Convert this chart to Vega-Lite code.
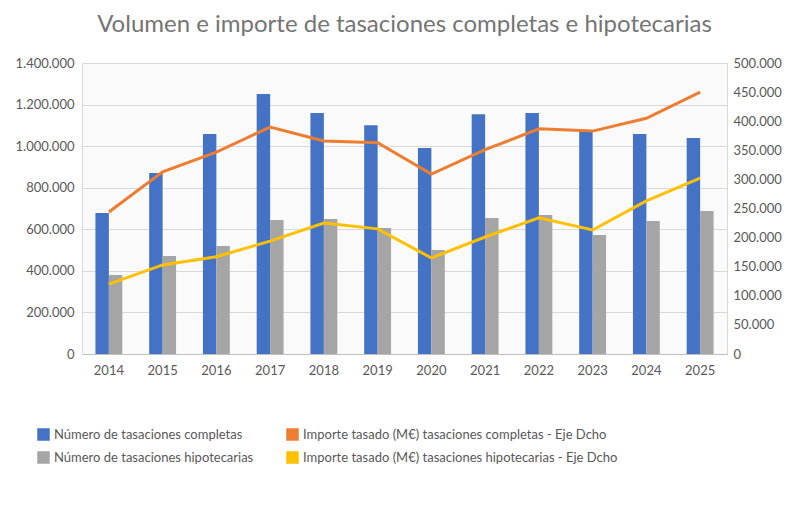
{
"$schema":"https://vega.github.io/schema/vega-lite/v6.json",
"autosize":"none","width":645,"height":291,
"padding":{"left":82,"top":63,"right":73,"bottom":155},
"title":{"text":"Volumen e importe de tasaciones completas e hipotecarias","font":"Lato","fontSize":24,"fontWeight":"normal","color":"#757575","offset":20},
"config":{"locale":{"number":{"decimal":",","thousands":".","grouping":[3],"currency":["","€"]}},"font":"Lato","view":{"stroke":"#d9d9d9","fill":"#fafafa"},
"axis":{"labelFont":"Lato","labelFontSize":13,"labelColor":"#595959","titleFont":"Lato"},
"legend":{"labelFont":"Lato","labelFontSize":13,"labelColor":"#595959"}},
"data":{"values":[
{"y":"2014","s":"Número de tasaciones completas","v":678000},{"y":"2015","s":"Número de tasaciones completas","v":871000},{"y":"2016","s":"Número de tasaciones completas","v":1058000},{"y":"2017","s":"Número de tasaciones completas","v":1251000},{"y":"2018","s":"Número de tasaciones completas","v":1159000},{"y":"2019","s":"Número de tasaciones completas","v":1101000},{"y":"2020","s":"Número de tasaciones completas","v":991000},{"y":"2021","s":"Número de tasaciones completas","v":1154000},{"y":"2022","s":"Número de tasaciones completas","v":1159000},{"y":"2023","s":"Número de tasaciones completas","v":1073000},{"y":"2024","s":"Número de tasaciones completas","v":1058000},{"y":"2025","s":"Número de tasaciones completas","v":1039000},
{"y":"2014","s":"Número de tasaciones hipotecarias","v":380000},{"y":"2015","s":"Número de tasaciones hipotecarias","v":471000},{"y":"2016","s":"Número de tasaciones hipotecarias","v":519000},{"y":"2017","s":"Número de tasaciones hipotecarias","v":645000},{"y":"2018","s":"Número de tasaciones hipotecarias","v":649000},{"y":"2019","s":"Número de tasaciones hipotecarias","v":606000},{"y":"2020","s":"Número de tasaciones hipotecarias","v":500000},{"y":"2021","s":"Número de tasaciones hipotecarias","v":654000},{"y":"2022","s":"Número de tasaciones hipotecarias","v":669000},{"y":"2023","s":"Número de tasaciones hipotecarias","v":572000},{"y":"2024","s":"Número de tasaciones hipotecarias","v":640000},{"y":"2025","s":"Número de tasaciones hipotecarias","v":688000},
{"y":"2014","s":"Importe tasado (M€) tasaciones completas - Eje Dcho","v":244000},{"y":"2015","s":"Importe tasado (M€) tasaciones completas - Eje Dcho","v":313000},{"y":"2016","s":"Importe tasado (M€) tasaciones completas - Eje Dcho","v":347000},{"y":"2017","s":"Importe tasado (M€) tasaciones completas - Eje Dcho","v":390000},{"y":"2018","s":"Importe tasado (M€) tasaciones completas - Eje Dcho","v":366000},{"y":"2019","s":"Importe tasado (M€) tasaciones completas - Eje Dcho","v":363000},{"y":"2020","s":"Importe tasado (M€) tasaciones completas - Eje Dcho","v":309000},{"y":"2021","s":"Importe tasado (M€) tasaciones completas - Eje Dcho","v":351000},{"y":"2022","s":"Importe tasado (M€) tasaciones completas - Eje Dcho","v":387000},{"y":"2023","s":"Importe tasado (M€) tasaciones completas - Eje Dcho","v":383000},{"y":"2024","s":"Importe tasado (M€) tasaciones completas - Eje Dcho","v":405000},{"y":"2025","s":"Importe tasado (M€) tasaciones completas - Eje Dcho","v":450000},
{"y":"2014","s":"Importe tasado (M€) tasaciones hipotecarias - Eje Dcho","v":120000},{"y":"2015","s":"Importe tasado (M€) tasaciones hipotecarias - Eje Dcho","v":153000},{"y":"2016","s":"Importe tasado (M€) tasaciones hipotecarias - Eje Dcho","v":167000},{"y":"2017","s":"Importe tasado (M€) tasaciones hipotecarias - Eje Dcho","v":194000},{"y":"2018","s":"Importe tasado (M€) tasaciones hipotecarias - Eje Dcho","v":225000},{"y":"2019","s":"Importe tasado (M€) tasaciones hipotecarias - Eje Dcho","v":215000},{"y":"2020","s":"Importe tasado (M€) tasaciones hipotecarias - Eje Dcho","v":165000},{"y":"2021","s":"Importe tasado (M€) tasaciones hipotecarias - Eje Dcho","v":201000},{"y":"2022","s":"Importe tasado (M€) tasaciones hipotecarias - Eje Dcho","v":234000},{"y":"2023","s":"Importe tasado (M€) tasaciones hipotecarias - Eje Dcho","v":213000},{"y":"2024","s":"Importe tasado (M€) tasaciones hipotecarias - Eje Dcho","v":263000},{"y":"2025","s":"Importe tasado (M€) tasaciones hipotecarias - Eje Dcho","v":302000}
]},
"encoding":{"x":{"field":"y","type":"nominal","title":null,"scale":{"paddingInner":0.5,"paddingOuter":0.25},"axis":{"labelAngle":0,"domainColor":"#bfbfbf","ticks":false,"labelPadding":10}}},
"layer":[
{"transform":[{"filter":"indexof(datum.s,'Número')==0"}],
"mark":{"type":"bar"},
"encoding":{"xOffset":{"field":"s","type":"nominal","sort":null},
"y":{"field":"v","type":"quantitative","scale":{"domain":[0,1400000]},"title":null,"axis":{"values":[0,200000,400000,600000,800000,1000000,1200000,1400000],"format":",.0f","domain":false,"ticks":false,"gridColor":"#d9d9d9","labelPadding":8}},
"color":{"field":"s","type":"nominal","sort":null,"scale":{"domain":["Número de tasaciones completas","Número de tasaciones hipotecarias","Importe tasado (M€) tasaciones completas - Eje Dcho","Importe tasado (M€) tasaciones hipotecarias - Eje Dcho"],"range":["#4472c4","#a5a5a5","#ed7d31","#ffc000"]},
"legend":{"orient":"none","legendX":-45,"legendY":365,"title":null,"columns":2,"columnPadding":30,"symbolType":"square","symbolSize":120,"labelLimit":400,"rowPadding":6}}}},
{"transform":[{"filter":"indexof(datum.s,'Importe')==0"}],
"mark":{"type":"line","strokeWidth":3},
"encoding":{"y":{"field":"v","type":"quantitative","scale":{"domain":[0,500000]},"title":null,"axis":{"values":[0,50000,100000,150000,200000,250000,300000,350000,400000,450000,500000],"orient":"right","format":",.0f","domain":false,"ticks":false,"grid":false,"labelPadding":6}},
"color":{"field":"s","type":"nominal","sort":null}}}
],
"resolve":{"scale":{"y":"independent"}}
}
